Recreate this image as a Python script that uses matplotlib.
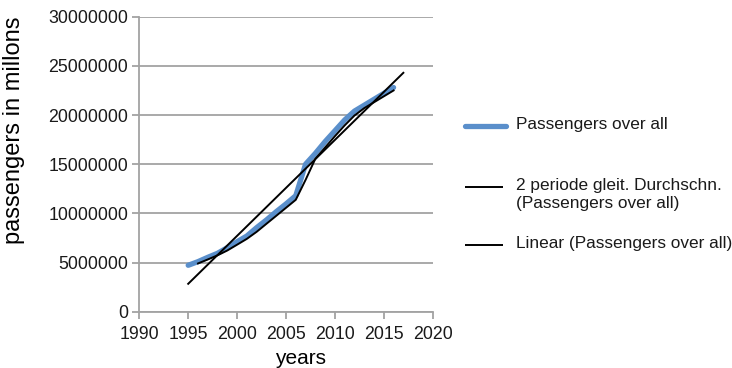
import numpy as np
import matplotlib
matplotlib.use("Agg")
import matplotlib.pyplot as plt
from matplotlib.lines import Line2D
from matplotlib.ticker import FuncFormatter, MultipleLocator

matplotlib.rcParams.update({
    'font.family': ['Liberation Sans', 'DejaVu Sans'],
    'font.size': 13,
    'text.color': '#1a1a1a',
})

# Yearly passenger numbers
years = np.arange(1995, 2017)
passengers = np.array([
    4720000, 5090000, 5530000, 5940000, 6510000, 7120000, 7700000, 8550000,
    9330000, 10170000, 10960000, 11800000, 15000000, 16100000, 17300000,
    18400000, 19500000, 20400000, 21000000, 21600000, 22200000, 22800000,
])
trend_until = 2017

series_label = "Passengers over all"
ma_label = "2 periode gleit. Durchschn.\n(Passengers over all)"
trend_label = "Linear (Passengers over all)"

blue = '#5A8FCB'
grey = '#a3a3a3'

# 2-period moving average and linear trend
ma = (passengers[1:] + passengers[:-1]) / 2
slope, intercept = np.polyfit(years, passengers, 1)
trend_x = np.array([years[0], trend_until])
trend_y = slope * trend_x + intercept

fig = plt.figure(figsize=(7.32, 3.68), dpi=100)
ax = fig.add_axes([0.1903, 0.153, 0.4008, 0.8016])

ax.plot(years, passengers, color=blue, lw=3.8, solid_capstyle='round',
        solid_joinstyle='round', zorder=3)
ax.plot(years[1:], ma, color='black', lw=1.4, zorder=4)
ax.plot(trend_x, trend_y, color='black', lw=1.4, zorder=4)

ax.set_xlim(1990, 2020)
ax.set_ylim(0, 30000000)
ax.xaxis.set_major_locator(MultipleLocator(5))
ax.yaxis.set_major_locator(MultipleLocator(5000000))
ax.yaxis.set_major_formatter(FuncFormatter(lambda v, _: f"{v:.0f}"))

ax.grid(True, axis='y', color=grey, lw=1.3, zorder=0)
ax.set_axisbelow(True)
for side in ['top', 'right']:
    ax.spines[side].set_visible(False)
for side in ['left', 'bottom']:
    ax.spines[side].set_color(grey)
    ax.spines[side].set_linewidth(1.3)
ax.tick_params(axis='both', colors=grey, width=1.3, length=5, labelcolor='#1a1a1a',
               labelsize=12.8)
ax.tick_params(axis='y', pad=3)
ax.tick_params(axis='x', pad=5)

ax.set_ylabel("passengers in millons", fontsize=17)
ax.yaxis.set_label_coords(-0.39, 0.616)
ax.set_xlabel("years", fontsize=15, va='top')
ax.xaxis.set_label_coords(0.551, -0.125)

# Legend drawn to the right of the plot, handle next to the first text line
def legend_entry(y_px, color, lw, text, x0=465, x1=505):
    yf = 1 - y_px / 368
    fig.add_artist(Line2D([x0 / 732, x1 / 732], [yf, yf], color=color, lw=lw,
                          solid_capstyle='round' if lw > 2 else 'butt'))
    fig.text(516 / 732, yf, text, ha='left', va='top', fontsize=12.4,
             linespacing=1.25, transform=fig.transFigure,
             bbox=None).set_y(yf + 9 / 368)

legend_entry(126, blue, 3.8, series_label, x1=506)
legend_entry(187, 'black', 1.4, ma_label, x1=503)
legend_entry(245, 'black', 1.4, trend_label, x1=503)

fig.savefig("out.png", dpi=100)
